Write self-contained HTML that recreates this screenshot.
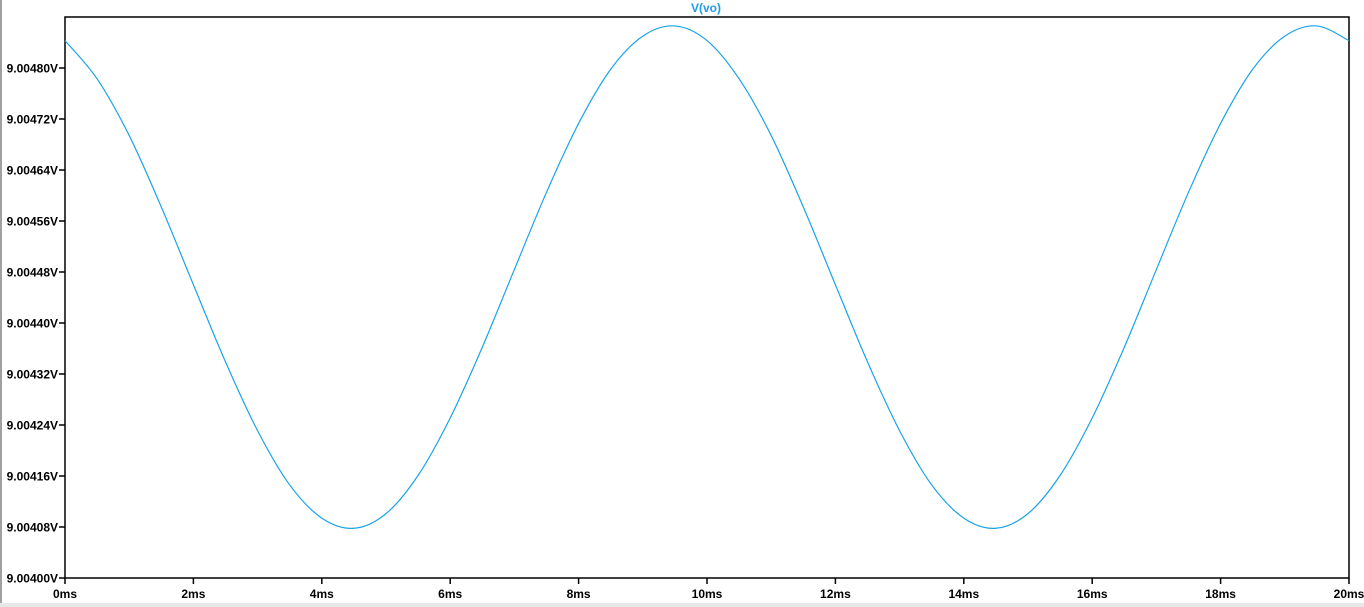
<!DOCTYPE html>
<html><head><meta charset="utf-8"><style>
html,body{margin:0;padding:0;background:#fff;}
svg{display:block;font-family:"Liberation Sans",Arial,sans-serif;}
</style></head><body>
<svg id="chart" width="1364" height="607">
<rect x="0" y="0" width="2" height="607" fill="#a0a0a0"/>
<rect x="0" y="603" width="1364" height="4" fill="#e8e8e8"/>
<text x="706" y="12" text-anchor="middle" font-size="12" font-weight="bold" fill="#1e9be6">V(vo)</text>
<g id="axes"></g>
<g id="plot"></g>
</svg>
<script>
const times=[0,0.5,1,1.5,2,2.5,3,3.5,4,4.5,5,5.5,6,6.5,7,7.5,8,8.5,9,9.5,10,10.5,11,11.5,12,12.5,13,13.5,14,14.5,15,15.5,16,16.5,17,17.5,18,18.5,19,19.5,20];
const volts=[9.004843,9.004783,9.004694,9.004582,9.004460,9.004339,9.004231,9.004146,9.004094,9.004078,9.004101,9.004161,9.004251,9.004362,9.004484,9.004605,9.004713,9.004798,9.004850,9.004866,9.004843,9.004783,9.004694,9.004582,9.004460,9.004339,9.004231,9.004146,9.004094,9.004078,9.004101,9.004161,9.004251,9.004362,9.004484,9.004605,9.004713,9.004798,9.004850,9.004866,9.004843];
const yTicks=[9.00400,9.00408,9.00416,9.00424,9.00432,9.00440,9.00448,9.00456,9.00464,9.00472,9.00480];
const yTickLabels=["9.00400V","9.00408V","9.00416V","9.00424V","9.00432V","9.00440V","9.00448V","9.00456V","9.00464V","9.00472V","9.00480V"];
const xTicks=[0,2,4,6,8,10,12,14,16,18,20];
const xTickLabels=["0ms","2ms","4ms","6ms","8ms","10ms","12ms","14ms","16ms","18ms","20ms"];

const L=65,R=1349,T=17,B=578;
const xs=t=>L+(t-0)/(20-0)*(R-L);
const ys=v=>B-(v-9.004)/0.00008*51;
const NS="http://www.w3.org/2000/svg";
const axes=document.getElementById('axes'),plot=document.getElementById('plot');
function mk(tag,attrs,parent){const e=document.createElementNS(NS,tag);for(const k in attrs)e.setAttribute(k,attrs[k]);parent.appendChild(e);return e;}

const frame=mk('rect',{x:L,y:T,width:R-L,height:B-T,fill:'none',stroke:'#000','stroke-width':1.5},axes);



yTicks.forEach((v,i)=>{
  const y=ys(v);
  const tk=mk('line',{x1:L-6,x2:L,y1:y,y2:y,stroke:'#000','stroke-width':1.5},axes);
  
  
  const tx=mk('text',{x:L-7,y:y+4.5,'text-anchor':'end','font-size':12,'font-weight':'bold',fill:'#000'},axes);
  tx.textContent=yTickLabels[i];
  
  
});
xTicks.forEach((t,i)=>{
  const x=xs(t);
  const tk=mk('line',{x1:x,x2:x,y1:B,y2:B+6,stroke:'#000','stroke-width':1.5},axes);
  
  
  const tx=mk('text',{x:x,y:B+20,'text-anchor':'middle','font-size':12,'font-weight':'bold',fill:'#000'},axes);
  tx.textContent=xTickLabels[i];
  
  
});

const pts=times.map((t,i)=>[xs(t),ys(volts[i])]);
let d='M'+pts[0][0]+','+pts[0][1];
for(let i=0;i<pts.length-1;i++){
  const p0=pts[Math.max(0,i-1)],p1=pts[i],p2=pts[i+1],p3=pts[Math.min(pts.length-1,i+2)];
  const c1x=p1[0]+(p2[0]-p0[0])/6,c1y=p1[1]+(p2[1]-p0[1])/6;
  const c2x=p2[0]-(p3[0]-p1[0])/6,c2y=p2[1]-(p3[1]-p1[1])/6;
  d+=' C'+c1x+','+c1y+' '+c2x+','+c2y+' '+p2[0]+','+p2[1];
}
const line=mk('path',{d:d,fill:'none',stroke:'#1aa3e8','stroke-width':1.2},plot);


</script>
</body></html>
